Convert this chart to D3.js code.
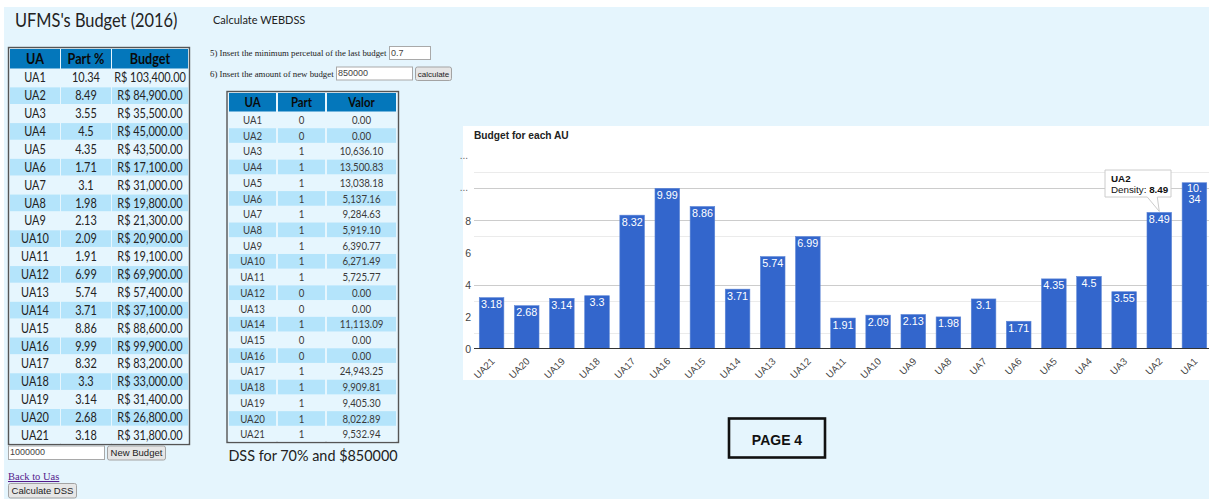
<!DOCTYPE html>
<html>
<head>
<meta charset="utf-8">
<script src="https://cdn.jsdelivr.net/npm/d3@7"></script>
<style>
  html, body { margin: 0; padding: 0; background: #ffffff; }
  svg { display: block; }
</style>
</head>
<body>
<svg id="page" width="1209" height="499"></svg>
<script>
// ---------------- DATA ----------------
const uaNames = ["UA1","UA2","UA3","UA4","UA5","UA6","UA7","UA8","UA9","UA10","UA11","UA12","UA13","UA14","UA15","UA16","UA17","UA18","UA19","UA20","UA21"];
const partPct = [10.34, 8.49, 3.55, 4.5, 4.35, 1.71, 3.1, 1.98, 2.13, 2.09, 1.91, 6.99, 5.74, 3.71, 8.86, 9.99, 8.32, 3.3, 3.14, 2.68, 3.18];
const budgetValues = [103400, 84900, 35500, 45000, 43500, 17100, 31000, 19800, 21300, 20900, 19100, 69900, 57400, 37100, 88600, 99900, 83200, 33000, 31400, 26800, 31800];
const dssPart = [0, 0, 1, 1, 1, 1, 1, 1, 1, 1, 1, 0, 0, 1, 0, 0, 1, 1, 1, 1, 1];
const dssValor = [0, 0, 10636.10, 13500.83, 13038.18, 5137.16, 9284.63, 5919.10, 6390.77, 6271.49, 5725.77, 0, 0, 11113.09, 0, 0, 24943.25, 9909.81, 9405.30, 8022.89, 9532.94];
const leftHeaders = ["UA", "Part %", "Budget"];
const rightHeaders = ["UA", "Part", "Valor"];
const chartCategories = uaNames.slice().reverse();           // UA21 ... UA1
const chartValues = partPct.slice().reverse();
const yTickValues = [0, 2, 4, 6, 8, 10, 12];
const yTickLabels = ["0", "2", "4", "6", "8", "...", "..."];
const gridMajor = [4, 8, 10];
const gridMinor = [1, 3, 7, 11];
const tooltipCategory = "UA2";

// ---------------- STYLE ----------------
const PAGE_BG = "#e5f5fd";
const HEAD_BG = "#0477bb";
const ROW_BLUE = "#b4e4fb";
const ROW_LIGHT = "#e6f6fe";
const BAR = "#3366cc";
const TFONT = "Lato, 'Open Sans', sans-serif";
const AFONT = "Arial, 'Liberation Sans', sans-serif";
const SFONT = "'Liberation Serif', 'Times New Roman', serif";
const SQ = 0.84; // horizontal squeeze to approximate a Calibri-like width

const svg = d3.select("#page");

function squeeze(sel, f) {
  sel.each(function () {
    const len = this.getComputedTextLength();
    if (len > 0) d3.select(this).attr("textLength", len * f).attr("lengthAdjust", "spacingAndGlyphs");
  });
  return sel;
}

// page background
svg.append("rect").attr("x", 4).attr("y", 7).attr("width", 1205).attr("height", 492).attr("fill", PAGE_BG);

// title texts
squeeze(svg.append("text").attr("x", 15).attr("y", 27).attr("font-family", TFONT).attr("font-size", 19.5)
  .attr("fill", "#222").text("UFMS's Budget (2016)"), SQ);
svg.append("text").attr("x", 213).attr("y", 24).attr("font-family", TFONT).attr("font-size", 11)
  .attr("fill", "#222").text("Calculate WEBDSS");

// ---------------- helpers ----------------
function inputBox(x, y, w, h, value) {
  svg.append("rect").attr("x", x + 0.5).attr("y", y + 0.5).attr("width", w).attr("height", h)
    .attr("fill", "#fff").attr("stroke", "#a9a9a9");
  svg.append("text").attr("x", x + 2).attr("y", y + h / 2 + 3.2).attr("font-family", AFONT)
    .attr("font-size", 9).attr("fill", "#444").text(value);
}
function button(x, y, w, h, label, fs) {
  svg.append("rect").attr("x", x + 0.5).attr("y", y + 0.5).attr("width", w).attr("height", h).attr("rx", 2)
    .attr("fill", "#e6e6e6").attr("stroke", "#a3a3a3");
  svg.append("text").attr("x", x + w / 2 + 0.5).attr("y", y + h / 2 + 3.3).attr("text-anchor", "middle")
    .attr("font-family", AFONT).attr("font-size", fs || 9.5).attr("fill", "#222").text(label);
}

function drawTable(cfg) {
  const g = svg.append("g");
  const rowBand = d3.scaleBand().domain(cfg.rows.map(r => r[0])).range([cfg.bodyTop, cfg.bodyBottom]).paddingInner(0.07);
  g.append("rect").attr("x", cfg.x0).attr("y", cfg.y0).attr("width", cfg.x1 - cfg.x0).attr("height", cfg.bodyBottom + 1 - cfg.y0)
    .attr("fill", ROW_LIGHT).attr("stroke", "#555").attr("stroke-width", 1.4);
  g.selectAll(".hcell").data(cfg.headers).enter().append("rect")
    .attr("x", (d, i) => cfg.cols[i][0]).attr("y", cfg.headTop).attr("width", (d, i) => cfg.cols[i][1])
    .attr("height", cfg.headH).attr("fill", HEAD_BG);
  squeeze(g.selectAll(".htext").data(cfg.headers).enter().append("text")
    .attr("x", (d, i) => cfg.cols[i][0] + cfg.cols[i][1] / 2).attr("y", cfg.headTop + cfg.headH / 2)
    .attr("dy", "0.36em").attr("text-anchor", "middle").attr("font-family", TFONT).attr("font-weight", "bold")
    .attr("font-size", cfg.headSize).attr("fill", "#0a0a0a").text(d => d), SQ);
  cfg.rows.forEach((row, ri) => {
    row.forEach((val, ci) => {
      g.append("rect").attr("x", cfg.cols[ci][0]).attr("y", rowBand(row[0])).attr("width", cfg.cols[ci][1])
        .attr("height", rowBand.bandwidth()).attr("fill", ri % 2 === 1 ? ROW_BLUE : ROW_LIGHT);
      squeeze(g.append("text").attr("x", cfg.cols[ci][0] + cfg.cols[ci][1] / 2)
        .attr("y", rowBand(row[0]) + rowBand.bandwidth() / 2).attr("dy", "0.36em").attr("text-anchor", "middle")
        .attr("font-family", TFONT).attr("font-size", cfg.bodySize).attr("fill", cfg.bodyColor).text(val), SQ);
    });
  });
}

// ---------------- LEFT TABLE ----------------
const fmtMoney = d3.format(",.2f");
drawTable({
  x0: 8.5, x1: 189.5, y0: 47.5, headTop: 49, headH: 19.5,
  bodyTop: 69.5, bodyBottom: 443.5,
  cols: [[10, 50], [61, 50], [112, 76]],
  headers: leftHeaders,
  rows: uaNames.map((u, i) => [u, String(partPct[i]), "R$ " + fmtMoney(budgetValues[i])]),
  headSize: 15, bodySize: 13, bodyColor: "#222"
});
inputBox(8, 445.5, 96, 13.5, "1000000");
button(107, 445.5, 58, 14, "New Budget", 9.5);

svg.append("text").attr("x", 8).attr("y", 480).attr("font-family", SFONT).attr("font-size", 10.5)
  .attr("fill", "#551a8b").attr("text-decoration", "underline").text("Back to Uas");
button(8, 483, 68, 14.5, "Calculate DSS", 9.5);

// ---------------- FORM ----------------
svg.append("text").attr("x", 210).attr("y", 56).attr("font-family", SFONT).attr("font-size", 8.8)
  .attr("fill", "#222").text("5) Insert the minimum percetual of the last budget");
inputBox(389, 46, 41, 13, "0.7");
svg.append("text").attr("x", 210).attr("y", 76.5).attr("font-family", SFONT).attr("font-size", 8.8)
  .attr("fill", "#222").text("6) Insert the amount of new budget");
inputBox(336, 66.5, 76, 13, "850000");
button(415, 66.5, 36, 13.5, "calculate", 8);

// ---------------- RIGHT TABLE ----------------
drawTable({
  x0: 227, x1: 398.5, y0: 91.5, headTop: 93, headH: 18.5,
  bodyTop: 112.5, bodyBottom: 441.5,
  cols: [[229, 47], [278, 47], [327, 69]],
  headers: rightHeaders,
  rows: uaNames.map((u, i) => [u, String(dssPart[i]), fmtMoney(dssValor[i])]),
  headSize: 13.5, bodySize: 11.5, bodyColor: "#3a3a3a"
});
squeeze(svg.append("text").attr("x", 313).attr("y", 461).attr("text-anchor", "middle").attr("font-family", TFONT)
  .attr("font-size", 16).attr("fill", "#222").text("DSS for 70% and $850000"), 0.9);

// ---------------- PAGE 4 box ----------------
svg.append("rect").attr("x", 729).attr("y", 418.5).attr("width", 96).attr("height", 39)
  .attr("fill", "none").attr("stroke", "#111").attr("stroke-width", 2.6);
svg.append("text").attr("x", 777).attr("y", 445).attr("text-anchor", "middle").attr("font-family", AFONT)
  .attr("font-weight", "bold").attr("font-size", 14).attr("fill", "#111").text("PAGE 4");

// ---------------- CHART ----------------
const chart = svg.append("g");
chart.append("rect").attr("x", 463).attr("y", 126).attr("width", 746).attr("height", 254).attr("fill", "#fff");
chart.append("text").attr("x", 474).attr("y", 139).attr("font-family", AFONT).attr("font-weight", "bold")
  .attr("font-size", 10.2).attr("fill", "#222").text("Budget for each AU");

const x = d3.scaleBand().domain(chartCategories).range([474, 1212]).paddingInner(0.3).paddingOuter(0.15);
const y = d3.scaleLinear().domain([0, 12]).range([348.7, 156.1]);

chart.selectAll(".gmin").data(gridMinor).enter().append("line")
  .attr("x1", 474).attr("x2", 1209).attr("y1", d => Math.round(y(d)) + 0.5).attr("y2", d => Math.round(y(d)) + 0.5)
  .attr("stroke", "#ebebeb").attr("stroke-width", 1);
chart.selectAll(".gmaj").data(gridMajor).enter().append("line")
  .attr("x1", 474).attr("x2", 1209).attr("y1", d => Math.round(y(d)) + 0.5).attr("y2", d => Math.round(y(d)) + 0.5)
  .attr("stroke", "#cccccc").attr("stroke-width", 1);

const yAxis = d3.axisLeft(y).tickValues(yTickValues).tickSize(0).tickPadding(0)
  .tickFormat((d, i) => yTickLabels[i]);
const yg = chart.append("g").attr("transform", "translate(471,0)").call(yAxis);
yg.select(".domain").remove();
yg.selectAll("text").attr("font-family", AFONT).attr("font-size", 10.5).attr("fill", "#444")
  .attr("x", 0).attr("dy", "0.36em");
yg.selectAll(".tick").filter((d, i) => yTickLabels[i] === "...").select("text")
  .attr("x", -3).attr("font-size", 10).attr("fill", "#666").attr("dy", "0.2em");

chart.selectAll(".bar").data(chartCategories).enter().append("rect")
  .attr("x", d => x(d)).attr("width", x.bandwidth())
  .attr("y", (d, i) => y(chartValues[i])).attr("height", (d, i) => y(0) - y(chartValues[i]))
  .attr("fill", BAR).attr("stroke", "#5c85d6").attr("stroke-width", 0.6);

chartCategories.forEach((c, i) => {
  const v = chartValues[i];
  const label = String(v);
  const cx = x(c) + x.bandwidth() / 2;
  const top = y(v);
  const t = chart.append("text").attr("text-anchor", "middle").attr("font-family", AFONT)
    .attr("font-size", 10.8).attr("fill", "#fff");
  if (label.length > 4) {
    const cut = label.indexOf(".") + 1;
    t.append("tspan").attr("x", cx).attr("y", top + 9.5).text(label.slice(0, cut));
    t.append("tspan").attr("x", cx).attr("y", top + 20.5).text(label.slice(cut));
  } else {
    t.attr("x", cx).attr("y", top + 10.5).text(label);
  }
});

chart.append("line").attr("x1", 474).attr("x2", 1209).attr("y1", 348.5).attr("y2", 348.5)
  .attr("stroke", "#333").attr("stroke-width", 1.2);

const xAxis = d3.axisBottom(x).tickSize(0).tickPadding(0);
const xg = chart.append("g").attr("transform", "translate(0,349)").call(xAxis);
xg.select(".domain").remove();
xg.selectAll("text").attr("font-family", AFONT).attr("font-size", 9.8).attr("fill", "#444")
  .attr("text-anchor", "end").attr("dy", 0).attr("y", 0)
  .attr("transform", "translate(3.7,13) rotate(-45)");

// tooltip
const tc = x(tooltipCategory) + x.bandwidth() / 2;
const tv = chartValues[chartCategories.indexOf(tooltipCategory)];
const tipX = 1105, tipY = 170, tipW = 66, tipH = 27;
const tip = chart.append("g");
tip.append("path")
  .attr("d", `M${tipX},${tipY} h${tipW} v${tipH} H${tc - 2} L${tc},${y(tv) - 1} L${tc - 12},${tipY + tipH} H${tipX} Z`)
  .attr("fill", "#fff").attr("stroke", "#cccccc").attr("stroke-width", 1);
tip.append("text").attr("x", tipX + 6).attr("y", tipY + 11.5).attr("font-family", AFONT).attr("font-weight", "bold")
  .attr("font-size", 9.8).attr("fill", "#111").text(tooltipCategory);
const t2 = tip.append("text").attr("x", tipX + 6).attr("y", tipY + 23).attr("font-family", AFONT)
  .attr("font-size", 9.8).attr("fill", "#111");
t2.append("tspan").text("Density: ");
t2.append("tspan").attr("font-weight", "bold").text(tv);
</script>
</body>
</html>
